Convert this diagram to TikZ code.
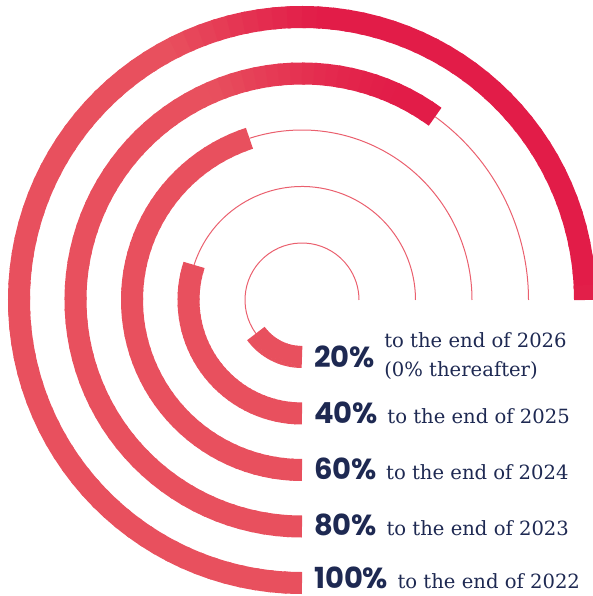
\documentclass[tikz,border=0pt]{standalone}
\usepackage{fontspec}
\usepackage{tikz}
\usetikzlibrary{calc}

\newfontfamily\pctfont{Poppins}
\newfontfamily\txtfont{DejaVu Serif}

\definecolor{ringlight}{RGB}{232,80,94}
\definecolor{ringdark}{RGB}{226,28,72}
\definecolor{thinred}{RGB}{234,96,110}
\definecolor{navy}{RGB}{30,41,82}

\begin{document}
\begin{tikzpicture}[x=1pt, y=1pt,
    ring/.style={line width=22pt, line cap=butt},
    thinline/.style={line width=1pt, draw=thinred},
    pct/.style={inner sep=0pt, text=navy, font=\pctfont\bfseries\fontsize{29}{29}\selectfont},
    txt/.style={inner sep=0pt, text=navy, font=\txtfont\fontsize{19.6}{19.6}\selectfont}
]

%------------------------ 基本参数 ------------------------
\def\Rmax{283}           % 最外圈半径
\def\dA{3}               % 渐变分段角度
\coordinate (O) at (0,0);

\useasboundingbox (-302,-296) rectangle (290,300);

%------------------------ 圆环 ------------------------
\foreach \r/\pc in {283/100, 226.5/80, 170/60, 113.5/40, 57/20} {
  % 粗段终止角(从底部顺时针走 3/4 圈的 \pc%)
  \pgfmathtruncatemacro{\aend}{270-2.7*\pc}
  \pgfmathtruncatemacro{\astop}{\aend+\dA}
  % 细线:粗段末端到右侧
  \draw[thinline] (\aend:\r) arc[start angle=\aend, end angle=0, radius=\r];
  % 粗段:按位置由浅到深
  \foreach \a in {270,267,...,\astop} {
    \pgfmathsetmacro{\b}{max(\a-\dA-0.8,\aend)}
    \pgfmathsetmacro{\m}{\a-0.5*\dA}
    \pgfmathsetmacro{\dk}{min(100,max(0,((\r*cos(\m)+\r*sin(\m))/(1.4142*\Rmax)-0.3)/0.45*100))}
    \draw[ring, draw=ringdark!\dk!ringlight] (\a:\r) arc[start angle=\a, end angle=\b, radius=\r];
  }
}

%------------------------ 文字 ------------------------
\node[pct, anchor=base west] (p20) at (12,-67) {20\%};
\node[txt, anchor=base west, xshift=9pt, yshift=19pt] (t20) at (p20.base east) {to the end of 2026};
\node[txt, anchor=base west, yshift=-29pt] (t20b) at (t20.base west) {(0\% thereafter)};

\node[pct, anchor=base west] (p40) at (12,-123) {40\%};
\node[txt, anchor=base west, xshift=9pt] (t40) at (p40.base east) {to the end of 2025};

\node[pct, anchor=base west] (p60) at (12,-179) {60\%};
\node[txt, anchor=base west, xshift=9pt] (t60) at (p60.base east) {to the end of 2024};

\node[pct, anchor=base west] (p80) at (12,-235) {80\%};
\node[txt, anchor=base west, xshift=9pt] (t80) at (p80.base east) {to the end of 2023};

\node[pct, anchor=base west] (p100) at (12,-288) {100\%};
\node[txt, anchor=base west, xshift=9pt] (t100) at (p100.base east) {to the end of 2022};

\end{tikzpicture}
\end{document}
